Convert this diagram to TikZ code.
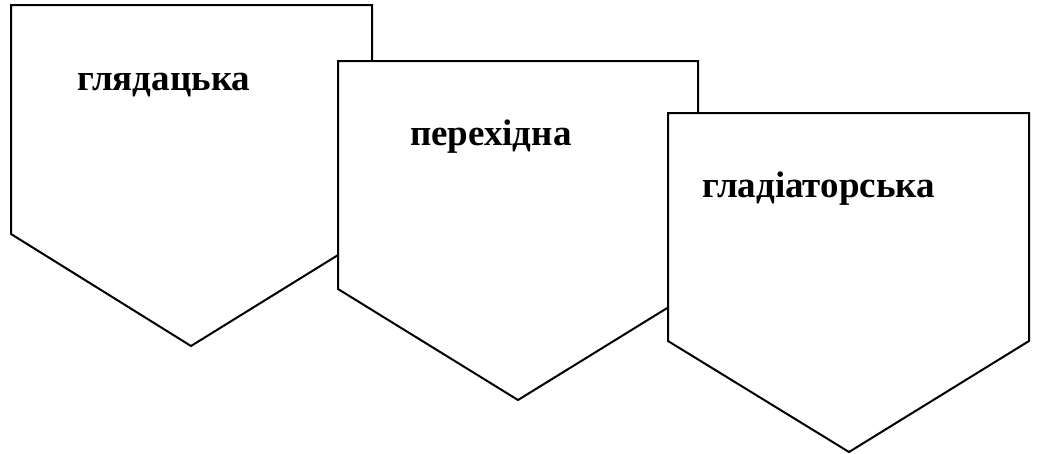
\documentclass[tikz,border=0pt]{standalone}
\usepackage{fontspec}
\setmainfont{Liberation Serif}
\begin{document}
\begin{tikzpicture}[x=1pt,y=-1pt,
  penta/.style={draw=black,fill=white,line width=2pt,line join=miter},
  lbl/.style={anchor=base west,inner sep=0pt,font=\fontsize{37}{44}\selectfont\bfseries}]
\useasboundingbox (0,0) rectangle (1038,453);
\draw[penta] (11,5) -- (372,5) -- (372,234) -- (191,346) -- (11,234) -- cycle;
\draw[penta] (338,61) -- (698,61) -- (698,289) -- (518,400) -- (338,289) -- cycle;
\draw[penta] (668,113) -- (1029,113) -- (1029,341) -- (849,452) -- (668,341) -- cycle;
\node[lbl] (t1) at (77,90) {глядацька};
\node[lbl] (t2) at (410,145) {перехідна};
\node[lbl] (t3) at (702,197) {гладіаторська};
\end{tikzpicture}
\end{document}
